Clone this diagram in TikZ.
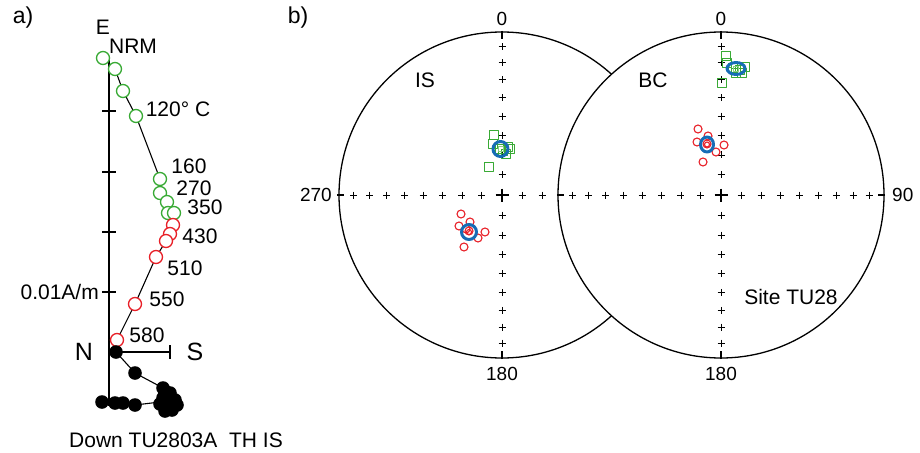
\documentclass[tikz,border=0pt]{standalone}
\usepackage{fontspec}
\setmainfont{Liberation Sans}
\definecolor{dgreen}{RGB}{57,170,53}
\definecolor{dred}{RGB}{232,32,40}
\definecolor{dblue}{RGB}{22,108,182}
\begin{document}
\begin{tikzpicture}[x=1pt,y=-1pt,line join=round]
\tikzset{
  lbl/.style={font=\fontsize{21}{21}\selectfont, inner sep=0pt},
  sml/.style={font=\fontsize{19}{19}\selectfont, inner sep=0pt},
  big/.style={font=\fontsize{25}{25}\selectfont, inner sep=0pt},
  panel/.style={font=\fontsize{23}{23}\selectfont, inner sep=0pt},
  axisline/.style={line width=1.4pt},
  netline/.style={line width=1.3pt},
  opengreen/.style={draw=dgreen, fill=white, line width=1.3pt},
  openred/.style={draw=dred, fill=white, line width=1.3pt},
  fullblack/.style={fill=black},
  sqgreen/.style={draw=dgreen, line width=1.3pt},
  smred/.style={draw=dred, line width=1.1pt},
  meanring/.style={draw=dblue, line width=3pt},
  pl/.pic={\draw[line width=0.9pt] (-3.5,0)--(3.5,0) (0,-3.5)--(0,3.5);},
  bigpl/.pic={\draw[line width=1.1pt] (-6.5,0)--(6.5,0) (0,-6.5)--(0,6.5);}
}
\useasboundingbox (0,0) rectangle (920,452);

% ---------------- panel a ----------------
\node[panel] (pa) at (23,18) {a)};
\coordinate (atop) at (109,60);
\coordinate (abot) at (109,406);
\coordinate (aO) at (109,352);
\coordinate (aS) at (170,352);
\draw[axisline] (atop) -- (abot);
\draw[axisline] (aO) -- (aS);
\draw[axisline] (170,345) -- (170,359);
\foreach \yy in {111,172,232,292} \draw[axisline] (102,\yy) -- (116,\yy);
\node[lbl] (lE) at (103,27) {E};
\node[big] (lN) at (84,352) {N};
\node[big] (lS) at (195,352) {S};
\node[lbl,anchor=east] (lscale) at (99,292) {0.01A/m};

% horizontal projection line
\draw[line width=1.1pt] plot coordinates {(103,58) (115,69) (123,91) (136,116) (160,179) (160,193) (167,202) (168,213) (174,213) (173,225) (170,234) (166,241) (156,257) (135,304) (117,340)};
% vertical projection line
\draw[line width=1.1pt] plot coordinates {(102,402) (115,403) (123,403) (135,405) (160,402) (168,400) (170,396) (163,388) (135,373) (116,352)};

\foreach \p in {(103,58),(115,69),(123,91),(136,116),(160,179),(160,193),(167,202),(168,213),(174,213)}
  \draw[opengreen] \p circle (6.5);
\foreach \p in {(173,225),(170,234),(166,241),(156,257),(135,304),(117,340)}
  \draw[openred] \p circle (6.5);
\foreach \p in {(102,402),(115,403),(123,403),(135,405),(163,398),(170,393),(175,400),(177,405),(172,410),(165,411),(160,404),(168,404),(166,392),(163,388),(135,373),(116,352)}
  \fill[fullblack] \p circle (6.8);

\node[lbl] (tNRM) at (133,46) {NRM};
\node[lbl] (t120) at (178,109) {120° C};
\node[lbl] (t160) at (189,166) {160};
\node[lbl] (t270) at (194,188) {270};
\node[lbl] (t350) at (205,207) {350};
\node[lbl] (t430) at (200,236) {430};
\node[lbl] (t510) at (185,268) {510};
\node[lbl] (t550) at (167,299) {550};
\node[lbl] (t580) at (147,335) {580};
\node[lbl] (tdown) at (176,440) {Down TU2803A\ \ TH IS};

% ---------------- panel b ----------------
\node[panel] (pb) at (298,18) {b)};
\coordinate (L) at (502,195);
\coordinate (R) at (721,195);
\def\rad{163}

% left net
\draw[netline] (L) circle (\rad);
\draw[netline] (502,31) -- (502,39);
\draw[netline] (502,359) -- (502,351);
\draw[netline] (337,195) -- (344,195);
\foreach \i in {1,...,8}{
  \pgfmathsetmacro{\rr}{\rad*sqrt(2)*sin(5*\i)}
  \path (502,195+\rr) pic {pl};
  \path (502,195-\rr) pic {pl};
  \path (502-\rr,195) pic {pl};
  \path (502+\rr,195) pic {pl};
}
\path (L) pic {bigpl};

% left data (IS)
\foreach \p in {(494,135),(493,144),(508,147),(510,149),(506,154),(503,151),(500,149),(489,167)}
  \draw[sqgreen] \p ++(-4.5,-4.5) rectangle ++(9,9);
\draw[meanring] (500.5,149) circle (7.5);
\draw[dgreen!60,line width=1pt] (498,146.5) rectangle (503,151.5);
\foreach \p in {(461,214),(470,222),(459,226),(469,231),(478,238),(485,232),(464,247),(466,229)}
  \draw[smred] \p circle (4);
\draw[meanring] (469,232) circle (7.5);
\draw[smred] (469,232) circle (2.5);

% right net (on top)
\draw[netline,fill=white] (R) circle (\rad);
\draw[netline] (721,31) -- (721,39);
\draw[netline] (721,359) -- (721,351);
\draw[netline] (557,195) -- (564,195);
\draw[netline] (885,195) -- (878,195);
\foreach \i in {1,...,8}{
  \pgfmathsetmacro{\rr}{\rad*sqrt(2)*sin(5*\i)}
  \path (721,195+\rr) pic {pl};
  \path (721,195-\rr) pic {pl};
  \path (721-\rr,195) pic {pl};
  \path (721+\rr,195) pic {pl};
}
\path (R) pic {bigpl};

% right data (BC)
\foreach \p in {(726,56),(727,63),(733,68),(740,70),(745,67),(742,73),(736,73),(722,83)}
  \draw[sqgreen] \p ++(-4.5,-4.5) rectangle ++(9,9);
\draw[meanring] (736,68.5) ellipse (9 and 6);
\draw[dgreen!60,line width=1pt] (733.5,66) rectangle (738.5,71);
\foreach \p in {(698,129),(697,142),(708,136),(724,145),(716,152),(703,162),(707,144)}
  \draw[smred] \p circle (4);
\draw[meanring] (707,144.5) ellipse (6.5 and 7.5);
\draw[smred] (707,144.5) circle (2.5);

% labels
\node[sml] (n0L) at (502,19) {0};
\node[sml] (n0R) at (721,19) {0};
\node[sml] (n180L) at (502,374) {180};
\node[sml] (n180R) at (721,374) {180};
\node[sml,anchor=east] (n270) at (332,195) {270};
\node[sml,anchor=west] (n90) at (892,195) {90};
\node[lbl] (tIS) at (425,80) {IS};
\node[lbl] (tBC) at (653,80) {BC};
\node[lbl] (tsite) at (791,297) {Site TU28};
\end{tikzpicture}
\end{document}
